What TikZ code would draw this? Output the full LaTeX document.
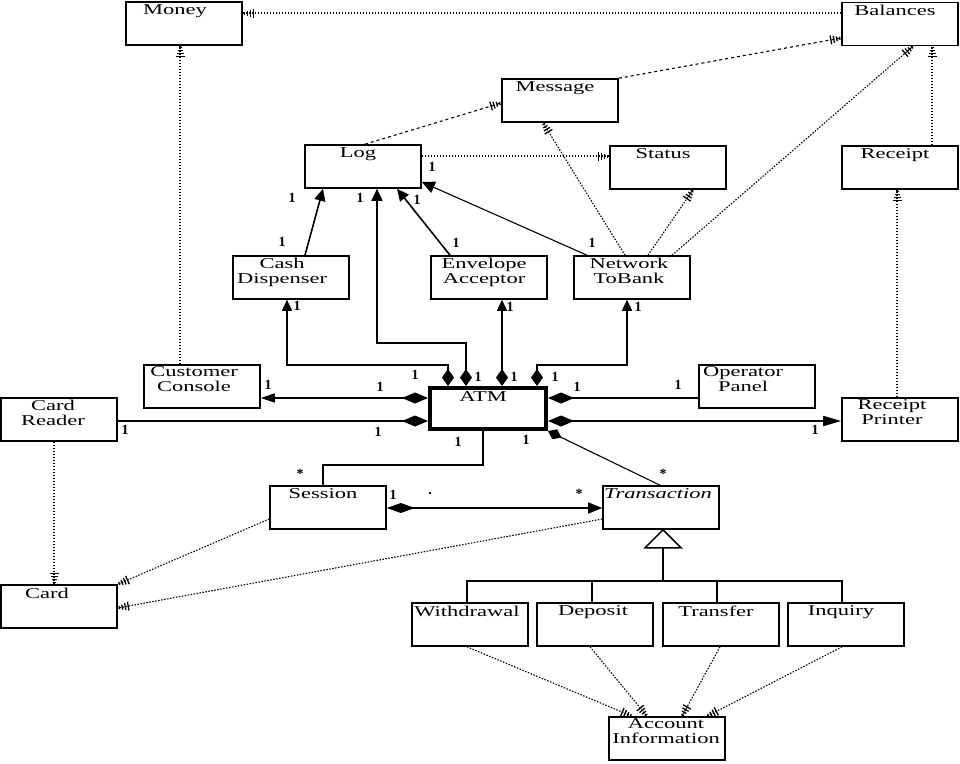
\documentclass[tikz,border=0pt]{standalone}
\usepackage{fontspec}
\setmainfont{Liberation Serif}[FakeStretch=1.5]
\newfontfamily\numfont{Liberation Serif}
\usetikzlibrary{arrows.meta,decorations.markings}
\tikzset{
 cls/.style={draw, line width=1.6pt, minimum width=116pt, minimum height=43pt, inner sep=0pt},
 ttl/.style={anchor=north, align=center, inner sep=0pt, yshift=-3.5pt, xshift=-5pt, font=\fontsize{15}{15}\selectfont},
 assoc/.style={line width=1.6pt},
 dep/.style={line width=1.1pt, dash pattern=on 1.5pt off 1.5pt, postaction={decorate},
   decoration={markings, mark=at position 1 with {\draw[solid, line width=1.3pt]
     (-1.5pt,-1.5pt)--(-1.5pt,1.5pt) (-4.5pt,-2.5pt)--(-4.5pt,2.5pt)
     (-7.5pt,-3.5pt)--(-7.5pt,3.5pt) (-10.5pt,-4.5pt)--(-10.5pt,4.5pt);}}},
 longdep/.style={dep, dash pattern=on 3pt off 3pt},
 mult/.style={font=\numfont\bfseries\fontsize{14}{14}\selectfont, inner sep=0pt},
}
\begin{document}
\begin{tikzpicture}[x=1pt,y=-1pt]
\fill[white] (0,0) rectangle (960,763);
\useasboundingbox (0,0) rectangle (960,763);

% classes
\node[cls, label={[ttl, xshift=-4pt]north:Money}] (money) at (184,23.5) {};
\node[cls, label={[ttl]north:Balances}] (balances) at (900,24) {};
\node[cls, label={[ttl]north:Message}] (message) at (560,100.5) {};
\node[cls, label={[ttl]north:Status}] (status) at (668,167.5) {};
\node[cls, label={[ttl]north:Receipt}] (receipt) at (900,167.5) {};
\node[cls, label={[ttl]north:Log}] (log) at (363,166.5) {};
\node[cls, label={[ttl, xshift=-4pt, yshift=1pt]north:{Cash\\Dispenser}}] (cashd) at (291,277.5) {};
\node[cls, label={[ttl, yshift=1pt]north:{Envelope\\Acceptor}}] (envacc) at (489,277.5) {};
\node[cls, label={[ttl, xshift=2pt, yshift=1pt]north:{Network\\ToBank}}] (ntb) at (632,277.5) {};
\node[cls, label={[ttl, xshift=-3pt, yshift=1pt]north:{Customer\\Console}}] (custcon) at (202,386.5) {};
\node[cls, label={[ttl, xshift=-1pt, yshift=1pt]north:{Card\\Reader}}] (cardreader) at (59,419.5) {};
\node[cls, line width=4pt, minimum height=41pt, label={[ttl, yshift=-2pt]north:ATM}] (atm) at (488,408.5) {};
\node[cls, label={[ttl, xshift=-9pt, yshift=1pt]north:{Operator\\Panel}}] (oppanel) at (757,386.5) {};
\node[cls, label={[ttl, xshift=-3pt, yshift=1pt]north:{Receipt\\Printer}}] (rprinter) at (900,419.5) {};
\node[cls, label={[ttl]north:Session}] (session) at (328,507.5) {};
\node[cls, label={[ttl, xshift=2pt]north:\itshape Transaction}] (trans) at (661,507.5) {};
\node[cls, label={[ttl, xshift=-7pt]north:Card}] (card) at (59,606.5) {};
\node[cls, label={[ttl, xshift=2pt]north:Withdrawal}] (withdrawal) at (470,624.5) {};
\node[cls, label={[ttl, xshift=3pt]north:Deposit}] (deposit) at (595,624.5) {};
\node[cls, label={[ttl]north:Transfer}] (transfer) at (721,624.5) {};
\node[cls, label={[ttl]north:Inquiry}] (inquiry) at (846,624.5) {};
\node[cls, label={[ttl, xshift=4pt, yshift=1pt]north:{Account\\Information}}] (acctinfo) at (667,738.5) {};

% solid associations
\draw[assoc, -{Triangle[length=12pt,width=11pt]}] (305,0 |- cashd.north) -- (323,0 |- log.south);
\draw[assoc, -{Triangle[length=12pt,width=11pt]}] (450,0 |- envacc.north) -- (397,0 |- log.south);
\draw[assoc, line width=1.1pt, -{Triangle[length=13pt,width=12pt]}] (587,0 |- ntb.north) -- (log.east |- 0,182);
\draw[assoc, {Diamond[length=17pt,width=12pt]}-{Triangle[length=11pt,width=10pt]}] (448,0 |- atm.north) |- (287,365) -- (287,0 |- cashd.south);
\draw[assoc, {Diamond[length=17pt,width=12pt]}-{Triangle[length=12pt,width=11pt]}] (466,0 |- atm.north) |- (377,343) -- (377,0 |- log.south);
\draw[assoc, {Diamond[length=17pt,width=12pt]}-{Triangle[length=11pt,width=10pt]}] (502,0 |- atm.north) -- (502,0 |- envacc.south);
\draw[assoc, {Diamond[length=17pt,width=12pt]}-{Triangle[length=11pt,width=10pt]}] (537,0 |- atm.north) |- (627,365) -- (627,0 |- ntb.south);
\draw[assoc, {Diamond[length=26pt,width=11pt]}-{Triangle[length=14pt,width=9pt]}] (atm.west |- 0,398) -- (custcon.east |- 0,398);
\draw[assoc, -{Diamond[length=26pt,width=11pt]}] (cardreader.east |- 0,421) -- (atm.west |- 0,421);
\draw[assoc, {Diamond[length=26pt,width=11pt]}-] (atm.east |- 0,398) -- (oppanel.west |- 0,398);
\draw[assoc, {Diamond[length=26pt,width=11pt]}-{Triangle[length=18pt,width=10pt]}] (atm.east |- 0,421) -- (rprinter.west |- 0,421);
\draw[assoc] (483,0 |- atm.south) |- (323,465) -- (323,0 |- session.north);
\draw[assoc, line width=1.1pt, -{Diamond[length=15pt,width=11pt]}] (660,0 |- trans.north) -- (atm.south east);
\draw[assoc, {Diamond[length=28pt,width=10pt]}-{Triangle[length=14pt,width=11pt]}] (session.east |- 0,508) -- (trans.west |- 0,508);

% generalization
\coordinate (gtop) at ([xshift=2pt]trans.south);
\coordinate (gbase) at ([yshift=-18pt]gtop);
\draw[assoc] (gbase) -- (gbase |- 0,582);
\draw[assoc] ([xshift=-3pt]withdrawal.north) -- ++(0,-21) -| ([xshift=-4pt]inquiry.north);
\draw[assoc] ([xshift=-3pt]deposit.north) -- ++(0,-21);
\draw[assoc] ([xshift=-4pt]transfer.north) -- ++(0,-21);
\draw[line width=1.5pt, fill=white] (gtop) -- ++(18,18) -- ++(-36,0) -- cycle;

% dependencies
\draw[dep] (balances.west |- 0,13) -- (money.east |- 0,13);
\draw[dep] (180,0 |- custcon.north) -- (180,0 |- money.south);
\draw[longdep] (message.north east) -- (balances.west |- 0,38);
\draw[longdep] (365,0 |- log.north) -- (message.west |- 0,103);
\draw[dep] (log.east |- 0,156) -- (status.west |- 0,156);
\draw[dep] (625,0 |- ntb.north) -- (543,0 |- message.south);
\draw[dep] (648,0 |- ntb.north) -- (693,0 |- status.south);
\draw[dep] (672,0 |- ntb.north) -- (913,0 |- balances.south);
\draw[dep] (932,0 |- receipt.north) -- (932,0 |- balances.south);
\draw[dep] (897,0 |- rprinter.north) -- (897,0 |- receipt.south);
\draw[dep] (54,0 |- cardreader.south) -- (54,0 |- card.north);
\draw[dep] (session.west |- 0,519) -- (card.north east);
\draw[dep] (trans.west |- 0,519) -- (card.east |- 0,608);
\draw[dep] (467,0 |- withdrawal.south) -- (632,0 |- acctinfo.north);
\draw[dep] (590,0 |- deposit.south) -- (647,0 |- acctinfo.north);
\draw[dep] (720,0 |- transfer.south) -- (682,0 |- acctinfo.north);
\draw[dep] (842,0 |- inquiry.south) -- (707,0 |- acctinfo.north);

% multiplicities
\node[mult] (m1) at (292,198) {1};
\node[mult] (m2) at (282,242) {1};
\node[mult] (m3) at (360,198) {1};
\node[mult] (m4) at (417,200) {1};
\node[mult] (m5) at (456,243) {1};
\node[mult] (m6) at (432,167) {1};
\node[mult] (m7) at (592,243) {1};
\node[mult] (m8) at (297,306) {1};
\node[mult] (m9) at (510,307) {1};
\node[mult] (m10) at (638,307) {1};
\node[mult] (m11) at (415,375) {1};
\node[mult] (m12) at (478,377) {1};
\node[mult] (m13) at (514,377) {1};
\node[mult] (m14) at (555,377) {1};
\node[mult] (m15) at (268,385) {1};
\node[mult] (m16) at (380,387) {1};
\node[mult] (m17) at (125,430) {1};
\node[mult] (m18) at (378,432) {1};
\node[mult] (m19) at (577,387) {1};
\node[mult] (m20) at (678,385) {1};
\node[mult] (m21) at (815,430) {1};
\node[mult] (m22) at (458,442) {1};
\node[mult] (m23) at (526,440) {1};
\node[mult] (m24) at (393,495) {1};
\node[mult] (s1) at (300,474) {*};
\node[mult] (s2) at (579,494) {*};
\node[mult] (s3) at (663,474) {*};
\node[mult] (dot1) at (430,494) {.};
\end{tikzpicture}
\end{document}
